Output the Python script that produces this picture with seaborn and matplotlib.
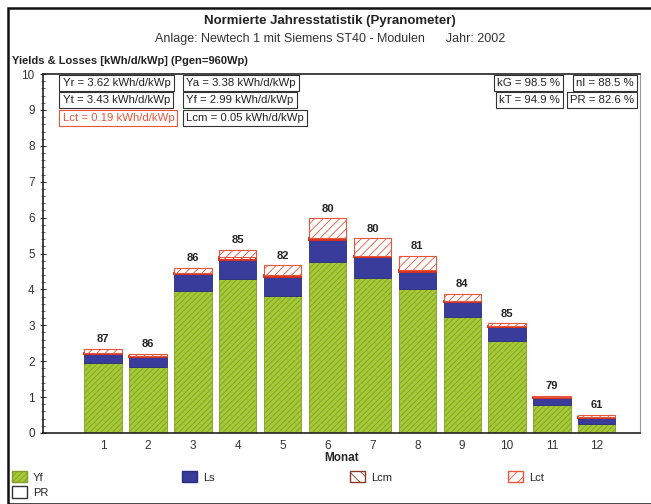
import matplotlib
matplotlib.use('Agg')
import matplotlib.pyplot as plt
import matplotlib.patches as mpatches
import seaborn as sns
import numpy as np
import pandas as pd

# Monatswerte
monate = [1, 2, 3, 4, 5, 6, 7, 8, 9, 10, 11, 12]
yf = [1.94, 1.83, 3.95, 4.28, 3.81, 4.76, 4.33, 4.00, 3.22, 2.57, 0.78, 0.26]
ls = [0.26, 0.29, 0.47, 0.55, 0.54, 0.62, 0.56, 0.49, 0.44, 0.39, 0.18, 0.16]
lcm = [0.03, 0.02, 0.05, 0.08, 0.04, 0.05, 0.04, 0.04, 0.03, 0.03, 0.03, 0.02]
lct = [0.11, 0.06, 0.13, 0.19, 0.28, 0.55, 0.49, 0.41, 0.19, 0.06, 0.04, 0.06]
pr = [87, 86, 86, 85, 82, 80, 80, 81, 84, 85, 79, 61]

stats_links = [['Yr = 3.62 kWh/d/kWp', 'Ya = 3.38 kWh/d/kWp'],
               ['Yt = 3.43 kWh/d/kWp', 'Yf = 2.99 kWh/d/kWp'],
               ['Lct = 0.19 kWh/d/kWp', 'Lcm = 0.05 kWh/d/kWp']]
stats_rechts = [['kG = 98.5 %', 'nI = 88.5 %'],
                ['kT = 94.9 %', 'PR = 82.6 %']]

df = pd.DataFrame({'Monat': monate, 'Yf': yf, 'Ls': ls, 'Lcm': lcm, 'Lct': lct})
df['b_ls'] = df['Yf']
df['b_lcm'] = df['Yf'] + df['Ls']
df['b_lct'] = df['b_lcm'] + df['Lcm']
df['top'] = df['b_lct'] + df['Lct']

sns.set_style('white')
plt.rcParams['font.family'] = ['Liberation Sans', 'DejaVu Sans']
plt.rcParams['hatch.linewidth'] = 0.6

fig = plt.figure(figsize=(6.51, 5.04), dpi=100)
ax = fig.add_axes([0.066, 0.141, 0.917, 0.712])

green = '#a6c936'
blue = '#3a3c9c'
red = '#e8553a'
w = 0.83

sns.barplot(data=df, x='Monat', y='Yf', color=green, width=w, ax=ax,
            edgecolor='#7f9e2a', hatch='//////', linewidth=0.6, saturation=1)
sns.barplot(data=df, x='Monat', y='Ls', bottom=df['b_ls'], color=blue, width=w, ax=ax,
            edgecolor='#2a2c80', linewidth=0.6, saturation=1)
sns.barplot(data=df, x='Monat', y='Lcm', bottom=df['b_lcm'], color='white', width=w, ax=ax,
            edgecolor='#d8321e', hatch='\\\\\\\\', linewidth=1.4, saturation=1)
sns.barplot(data=df, x='Monat', y='Lct', bottom=df['b_lct'], color='white', width=w, ax=ax,
            edgecolor=red, hatch='////', linewidth=0.8, saturation=1)

# PR-Werte über den Balken
for i, (t, p) in enumerate(zip(df['top'], pr)):
    ax.text(i, t + 0.13, f'{p}', ha='center', va='bottom', fontsize=8, fontweight='bold', color='#222222')

ax.set_xlim(-1.34, 11.96)
ax.set_ylim(0, 10)
ax.set_yticks(range(0, 11))
ax.set_yticks(np.arange(0, 10.01, 0.2), minor=True)
ax.tick_params(axis='y', which='major', length=5, direction='inout', labelsize=8.5, colors='#333333', left=True)
ax.tick_params(axis='y', which='minor', length=3, direction='inout', left=True, colors='#555555')
ax.tick_params(axis='x', length=0, labelsize=8.5, colors='#333333', pad=5)
ax.set_xlabel('Monat', fontsize=8.5, fontweight='bold', labelpad=0)
ax.set_ylabel('')
for s in ['left', 'bottom', 'top']:
    ax.spines[s].set_color('#222222')
    ax.spines[s].set_linewidth(1.2)
ax.spines['right'].set_color('#999999')
ax.spines['right'].set_linewidth(0.8)

# Kennzahlen-Kästen
box = dict(boxstyle='square,pad=0.28', facecolor='white', edgecolor='#333333', linewidth=0.8)
box_rot = dict(boxstyle='square,pad=0.28', facecolor='white', edgecolor=red, linewidth=0.8)
xs_l = [0.033, 0.240]
xs_r = [0.866, 0.990]
ys = [0.975, 0.928, 0.878]
for r, zeile in enumerate(stats_links):
    for c, txt in enumerate(zeile):
        rot = txt.startswith('Lct')
        ax.text(xs_l[c], ys[r], txt, transform=ax.transAxes, fontsize=8.2, va='center', ha='left',
                color=red if rot else '#222222', bbox=box_rot if rot else box)
for r, zeile in enumerate(stats_rechts):
    for c, txt in enumerate(zeile):
        ax.text(xs_r[c], ys[r], txt, transform=ax.transAxes, fontsize=8.2, va='center', ha='right',
                color='#222222', bbox=box)

# Titel
fig.text(0.507, 0.958, 'Normierte Jahresstatistik (Pyranometer)', ha='center', va='center',
         fontsize=9.5, fontweight='bold', color='#222222')
fig.text(0.507, 0.923, 'Anlage: Newtech 1 mit Siemens ST40 - Modulen      Jahr: 2002', ha='center',
         va='center', fontsize=9, color='#333333')
fig.text(0.018, 0.878, 'Yields & Losses [kWh/d/kWp] (Pgen=960Wp)', ha='left', va='center',
         fontsize=8, fontweight='bold', color='#222222')

# Legende
handles = [mpatches.Patch(facecolor=green, edgecolor='#7f9e2a', hatch='//////', label='Yf'),
           mpatches.Patch(facecolor=blue, edgecolor='#2a2c80', label='Ls'),
           mpatches.Patch(facecolor='white', edgecolor='#8b3a2a', hatch='\\\\\\', label='Lcm'),
           mpatches.Patch(facecolor='white', edgecolor=red, hatch='///', label='Lct'),
           mpatches.Patch(facecolor='white', edgecolor='#333333', label='PR')]
pos = [(0.018, 0.054), (0.279, 0.054), (0.537, 0.054), (0.780, 0.054), (0.018, 0.024)]
for h, (px, py) in zip(handles, pos):
    fig.legend(handles=[h], loc='center left', bbox_to_anchor=(px, py), frameon=False,
               fontsize=8, handlelength=1.4, handleheight=1.2, handletextpad=0.5, borderpad=0,
               borderaxespad=0)

# Rahmen um die Grafik
fig.add_artist(mpatches.Rectangle((0.013, 0.0), 0.99, 0.985, transform=fig.transFigure,
                                  fill=False, edgecolor='#111111', linewidth=1.8))

plt.savefig('out.png', dpi=100)
